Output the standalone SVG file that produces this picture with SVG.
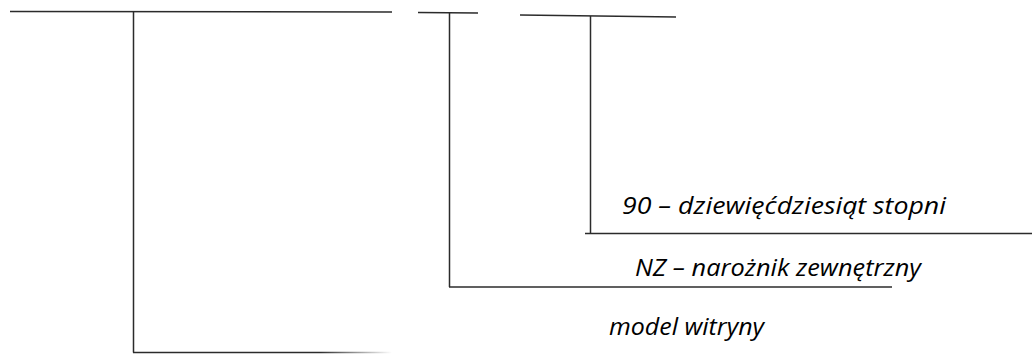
<svg xmlns="http://www.w3.org/2000/svg" width="1034" height="354" viewBox="0 0 1034 354">
  <style>
    .ln { stroke: #2b2b2b; stroke-width: 1.5; fill: none; }
    .lbl { font-family: "Open Sans", Lato, "Liberation Sans", sans-serif; font-style: italic; font-size: 23px; fill: #000; }
  </style>
  <defs>
    <linearGradient id="fade" x1="133" y1="0" x2="392" y2="0" gradientUnits="userSpaceOnUse">
      <stop offset="0" stop-color="#2b2b2b"/>
      <stop offset="0.72" stop-color="#2b2b2b"/>
      <stop offset="1" stop-color="#2b2b2b" stop-opacity="0"/>
    </linearGradient>
  </defs>
  <rect width="1034" height="354" fill="#fff"/>

  <!-- leader lines from the code segments to their descriptions -->
  <g id="connectors">
    <line class="ln" x1="10" y1="11.5" x2="392" y2="12"/>
    <line class="ln" x1="133.5" y1="12" x2="133.5" y2="352.5"/>
    <line x1="133" y1="352.5" x2="392" y2="352.5" stroke="url(#fade)" stroke-width="1.5"/>

    <line class="ln" x1="418" y1="12.5" x2="478" y2="13"/>
    <line class="ln" x1="449.5" y1="13" x2="449.5" y2="287"/>
    <line class="ln" x1="449" y1="287" x2="892" y2="287"/>

    <line class="ln" x1="520" y1="15" x2="676" y2="17"/>
    <line class="ln" x1="590.5" y1="16" x2="590.5" y2="233.5"/>
    <line class="ln" x1="585" y1="233.5" x2="1032" y2="233.5"/>
  </g>

  <g id="label-angle">
    <text class="lbl" x="622" y="214" textLength="324" lengthAdjust="spacingAndGlyphs">90 – dziewięćdziesiąt stopni</text>
  </g>
  <g id="label-corner">
    <text class="lbl" x="635" y="276" textLength="286" lengthAdjust="spacingAndGlyphs">NZ – narożnik zewnętrzny</text>
  </g>
  <g id="label-model">
    <text class="lbl" x="609" y="335" textLength="155" lengthAdjust="spacingAndGlyphs">model witryny</text>
  </g>
</svg>
